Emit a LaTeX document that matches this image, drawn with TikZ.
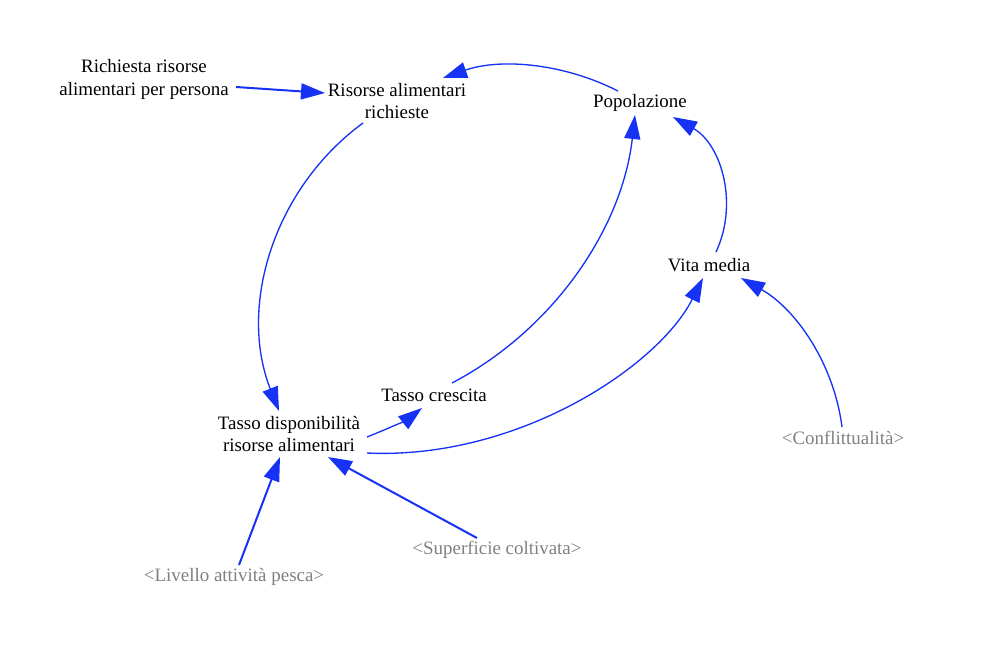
\documentclass[tikz,border=0pt]{standalone}
\usepackage{fontspec}
\setmainfont{Liberation Serif}
\usetikzlibrary{arrows.meta,calc}
\definecolor{vblue}{RGB}{22,50,245}
\definecolor{vgray}{RGB}{128,128,128}
\begin{document}
\begin{tikzpicture}[x=0.75pt,y=-0.75pt,
  var/.style={align=center,font=\fontsize{14.2}{17.2}\selectfont,inner sep=0pt},
  shadowvar/.style={var,text=vgray},
  link/.style={draw=vblue,line width=1pt,-{Triangle[length=18pt,width=12pt]},vblue},
  straightlink/.style={link,line width=1.5pt}]
\useasboundingbox (0,0) rectangle (985,644);
\fill[white] (0,0) rectangle (985,644);

\node[var] (R) at (144,79) {Richiesta risorse\\alimentari per persona};
\node[var] (A) at (397,101) {Risorse alimentari\\richieste};
\node[var] (P) at (640,103) {Popolazione};
\node[var] (V) at (709,265) {Vita media};
\node[var] (C) at (434,395) {Tasso crescita};
\node[var] (T) at (289,434) {Tasso disponibilità\\risorse alimentari};
\node[shadowvar] (F) at (843,438) {<Conflittualità>};
\node[shadowvar] (S) at (497,550) {<Superficie coltivata>};
\node[shadowvar] (L) at (234,577) {<Livello attività pesca>};

\draw[straightlink] ($(R)+(92,8)$) -- ($(A)+(-72,-8)$);
\draw[link] ($(P)+(-22,-12)$) .. controls (563,63) and (500,58) .. ($(A)+(46,-23)$);
\draw[link] ($(A)+(-34,22)$) .. controls (273,189) and (238,307) .. ($(T)+(-10,-23)$);
\draw[link] ($(C)+(18,-12)$) .. controls (553,330) and (622,229) .. ($(P)+(-5,12)$);
\draw[link] ($(V)+(7,-13)$) .. controls (739,203) and (721,144) .. ($(P)+(33,14)$);
\draw[link] ($(T)+(78,3)$) .. controls (385,430) and (408,419) .. ($(C)+(-12,13)$);
\draw[link] ($(T)+(78,19)$) .. controls (517,460) and (658,367) .. ($(V)+(-6,13)$);
\draw[link] ($(F)+(-1,-11)$) .. controls (834,364) and (796,309) .. ($(V)+(32,13)$);
\draw[straightlink] ($(S)+(-20,-12)$) -- ($(T)+(39,23)$);
\draw[straightlink] ($(L)+(5,-12)$) -- ($(T)+(-9,23)$);
\end{tikzpicture}
\end{document}
